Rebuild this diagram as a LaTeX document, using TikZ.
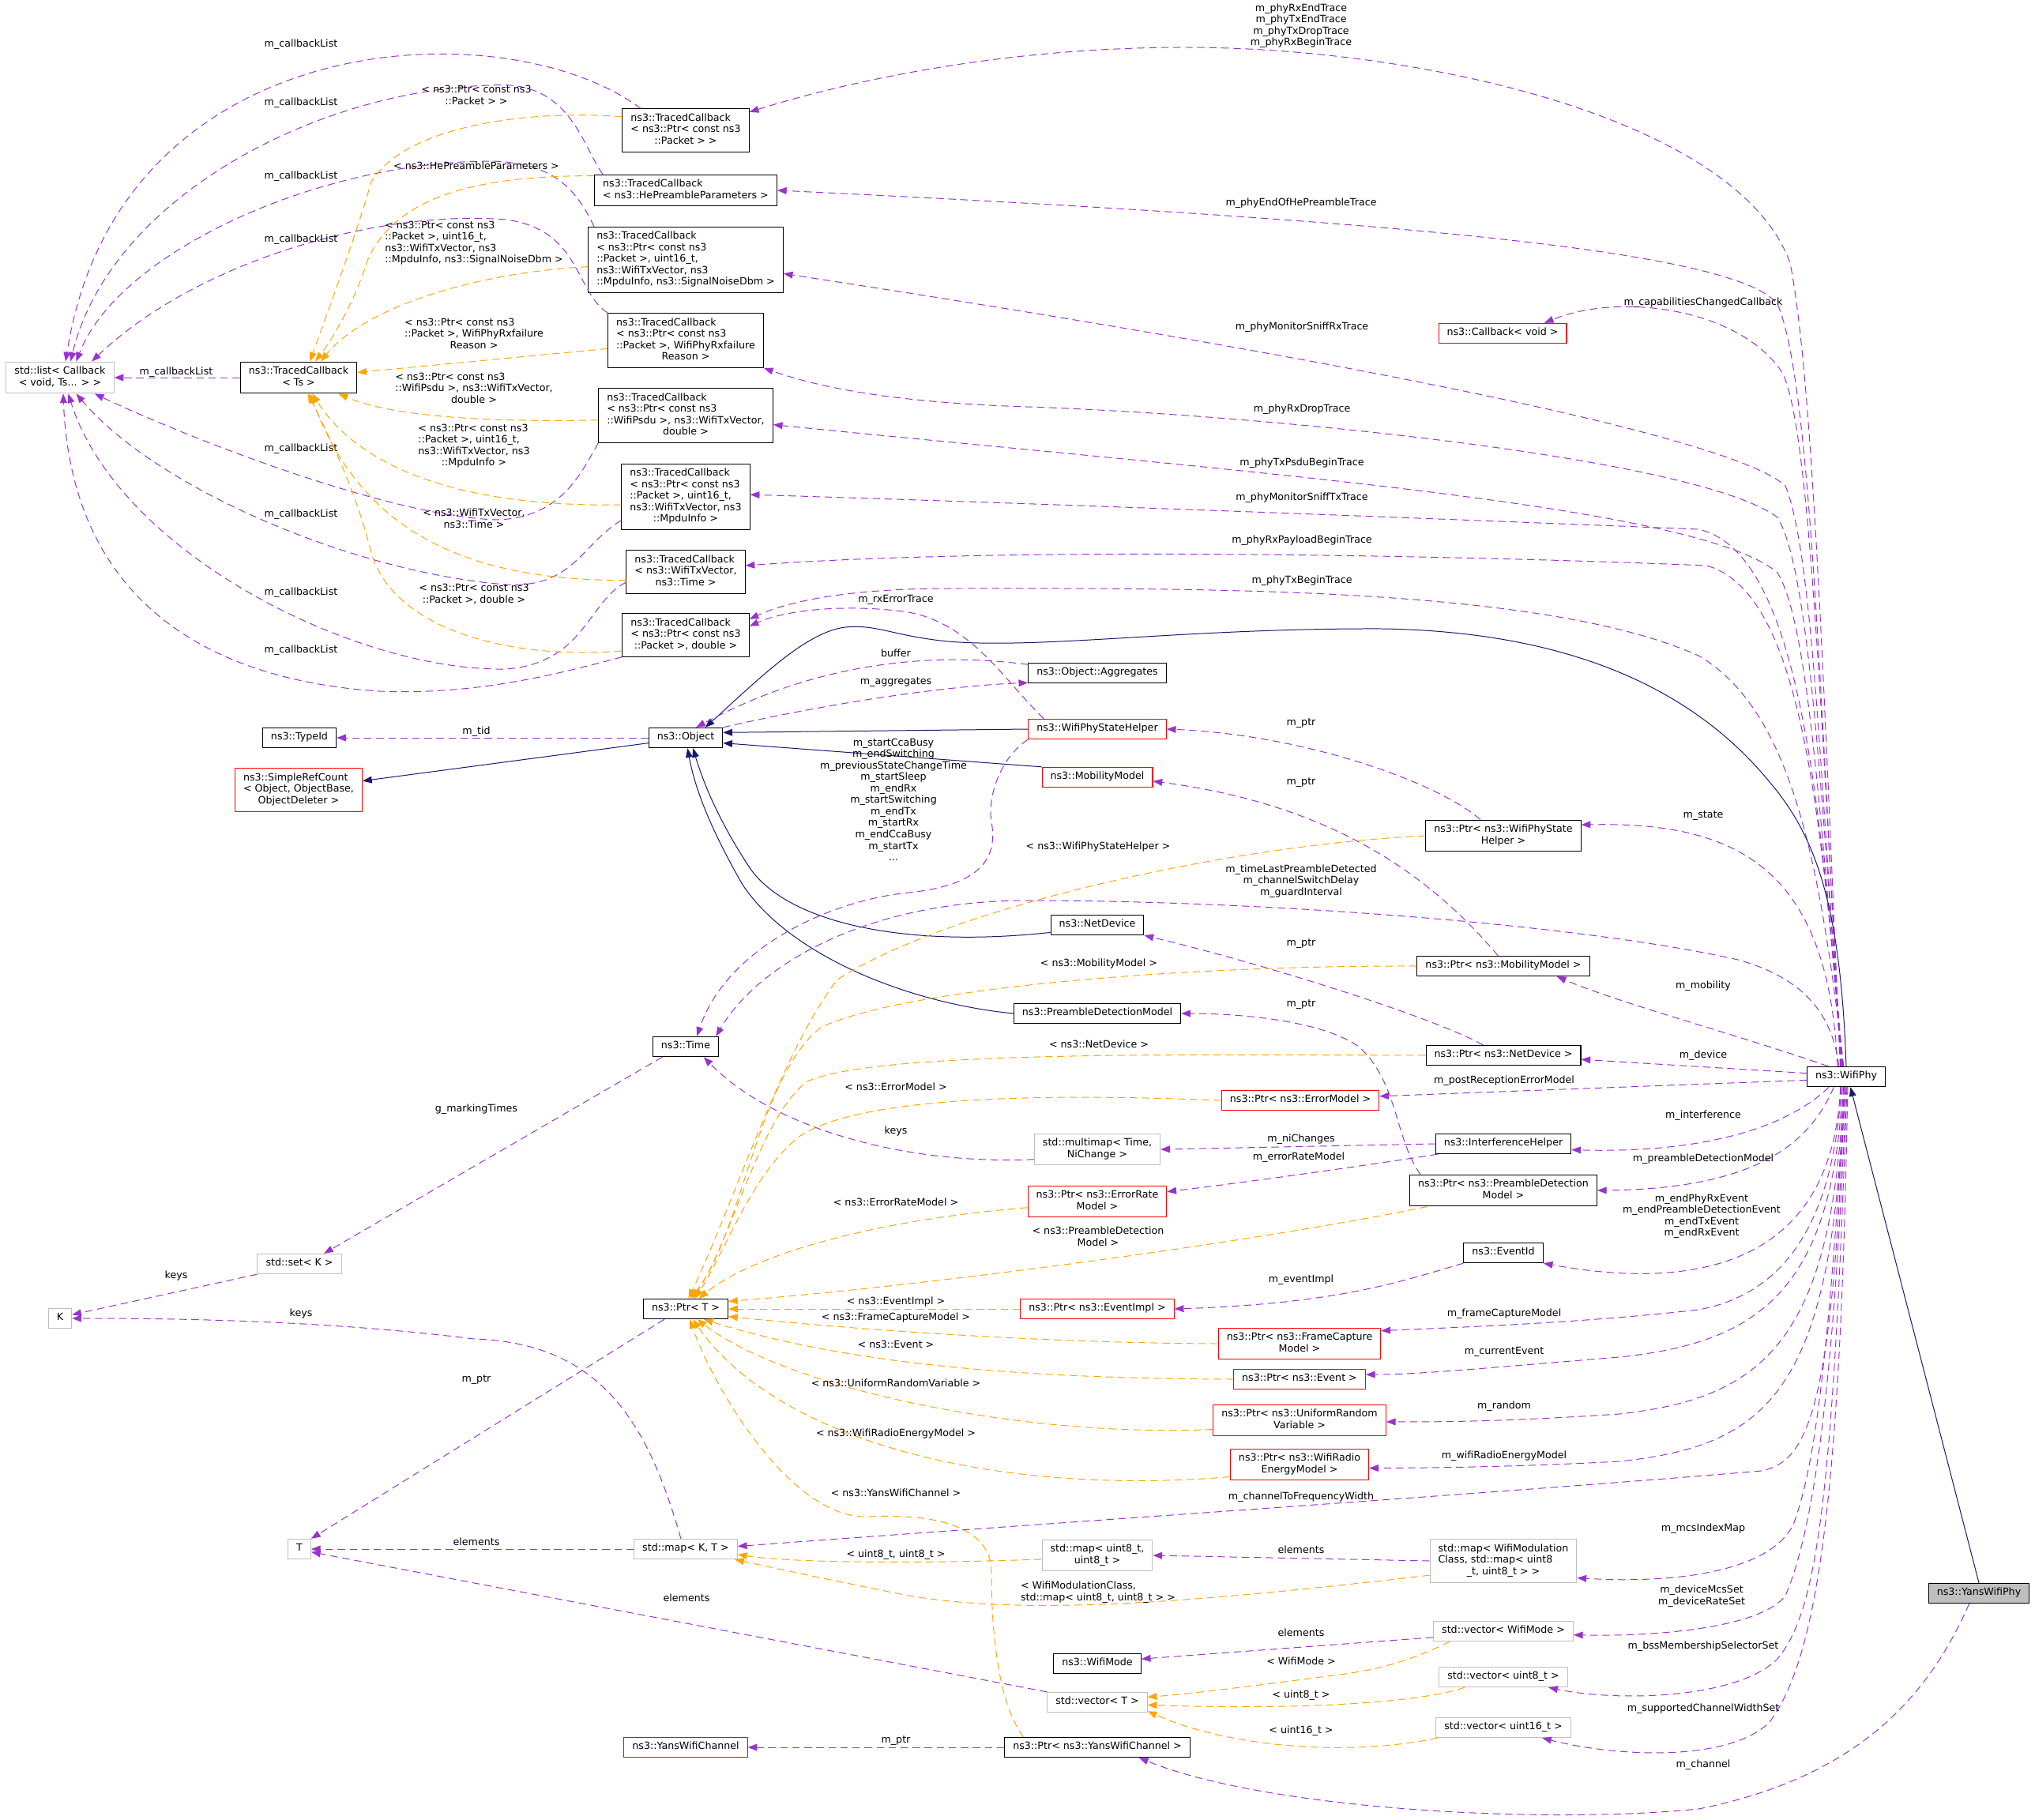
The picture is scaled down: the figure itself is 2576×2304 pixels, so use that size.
\documentclass[tikz,border=0pt]{standalone}
\usepackage{fontspec}
\setmainfont{DejaVu Sans}
\usetikzlibrary{arrows.meta}
\definecolor{mempurple}{HTML}{9A32CD}
\definecolor{tmplorange}{HTML}{FFA500}
\definecolor{inhnavy}{HTML}{191970}
\definecolor{boxgray}{HTML}{BFBFBF}
\newcommand{\cl}[1]{\begin{tabular}{@{}l@{}}#1\end{tabular}}
\newcommand{\cc}[1]{\begin{tabular}{@{}c@{}}#1\end{tabular}}
\newcommand{\lastln}[1]{\multicolumn{1}{@{}c@{}}{#1}}
\tikzset{
  cls/.style={draw=black, fill=white, line width=0.9pt, inner xsep=9pt, inner ysep=4.6pt, font=\fontsize{10.8}{12.4}\selectfont},
  redcls/.style={cls, draw=red},
  graycls/.style={cls, draw=boxgray},
  lbl/.style={inner sep=0pt, font=\fontsize{10.8}{12.4}\selectfont},
  member/.style={draw=mempurple, line width=0.85pt, dash pattern=on 8pt off 5pt, -{Triangle[length=10pt,width=7.5pt]}},
  tmpl/.style={member, draw=tmplorange},
  inherit/.style={draw=inhnavy, line width=0.85pt, -{Triangle[length=10pt,width=7.5pt]}}
}
\begin{document}
\begin{tikzpicture}[x=0.3mm, y=-0.3mm]
    \useasboundingbox (0,0) rectangle (2576,2304);
    % classes
    \node[graycls] (lst) at (76,478) {\cl{std::list< Callback\\\lastln{< void, Ts... > >}}};
    \node[cls] (tcts) at (378,478) {\cl{ns3::TracedCallback\\\lastln{< Ts >}}};
    \node[cls] (tc1) at (868,165) {\cl{ns3::TracedCallback\\< ns3::Ptr< const ns3\\\lastln{::Packet > >}}};
    \node[cls] (tc2) at (868,241) {\cl{ns3::TracedCallback\\\lastln{< ns3::HePreambleParameters >}}};
    \node[cls] (tc3) at (868,329) {\cl{ns3::TracedCallback\\< ns3::Ptr< const ns3\\::Packet >, uint16\_t,\\ns3::WifiTxVector, ns3\\\lastln{::MpduInfo, ns3::SignalNoiseDbm >}}};
    \node[cls] (tc4) at (868,431) {\cl{ns3::TracedCallback\\< ns3::Ptr< const ns3\\::Packet >, WifiPhyRxfailure\\\lastln{Reason >}}};
    \node[cls] (tc5) at (868,526) {\cl{ns3::TracedCallback\\< ns3::Ptr< const ns3\\::WifiPsdu >, ns3::WifiTxVector,\\\lastln{double >}}};
    \node[cls] (tc6) at (868,629) {\cl{ns3::TracedCallback\\< ns3::Ptr< const ns3\\::Packet >, uint16\_t,\\ns3::WifiTxVector, ns3\\\lastln{::MpduInfo >}}};
    \node[cls] (tc7) at (868,724) {\cl{ns3::TracedCallback\\< ns3::WifiTxVector,\\\lastln{ns3::Time >}}};
    \node[cls] (tc8) at (868,804) {\cl{ns3::TracedCallback\\< ns3::Ptr< const ns3\\\lastln{::Packet >, double >}}};
    \node[cls] (typeid) at (379,934) {\cl{ns3::TypeId}};
    \node[redcls] (simpleref) at (378,1000) {\cl{ns3::SimpleRefCount\\< Object, ObjectBase,\\\lastln{ObjectDeleter >}}};
    \node[cls] (object) at (868,934) {\cl{ns3::Object}};
    \node[cls] (aggr) at (1389,852) {\cl{ns3::Object::Aggregates}};
    \node[redcls] (wpsh) at (1389,923) {\cl{ns3::WifiPhyStateHelper}};
    \node[redcls] (mobility) at (1389,984) {\cl{ns3::MobilityModel}};
    \node[cls] (netdev) at (1389,1171) {\cl{ns3::NetDevice}};
    \node[cls] (pdm) at (1389,1283) {\cl{ns3::PreambleDetectionModel}};
    \node[cls] (time) at (868,1325) {\cl{ns3::Time}};
    \node[graycls] (stdset) at (379,1600) {\cl{std::set< K >}};
    \node[graycls] (kk) at (76,1669) {\cl{K}};
    \node[cls] (ptrT) at (868,1657) {\cl{ns3::Ptr< T >}};
    \node[graycls] (tt) at (379,1961) {\cl{T}};
    \node[graycls] (mapKT) at (868,1961) {\cl{std::map< K, T >}};
    \node[redcls] (yanschan) at (868,2212) {\cl{ns3::YansWifiChannel}};
    \node[redcls] (callback) at (1902,422) {\cl{ns3::Callback< void >}};
    \node[cls] (ptrwpsh) at (1903,1058) {\cl{ns3::Ptr< ns3::WifiPhyState\\\lastln{Helper >}}};
    \node[cls] (ptrmob) at (1903,1223) {\cl{ns3::Ptr< ns3::MobilityModel >}};
    \node[cls] (ptrnet) at (1903,1336) {\cl{ns3::Ptr< ns3::NetDevice >}};
    \node[redcls] (ptrerr) at (1646,1393) {\cl{ns3::Ptr< ns3::ErrorModel >}};
    \node[graycls] (multimap) at (1389,1455) {\cl{std::multimap< Time,\\\lastln{NiChange >}}};
    \node[cls] (ifh) at (1903,1448) {\cl{ns3::InterferenceHelper}};
    \node[redcls] (ptrerate) at (1389,1521) {\cl{ns3::Ptr< ns3::ErrorRate\\\lastln{Model >}}};
    \node[cls] (ptrpdm) at (1903,1507) {\cl{ns3::Ptr< ns3::PreambleDetection\\\lastln{Model >}}};
    \node[cls] (eventid) at (1903,1586) {\cl{ns3::EventId}};
    \node[redcls] (ptrevimpl) at (1389,1657) {\cl{ns3::Ptr< ns3::EventImpl >}};
    \node[redcls] (ptrfcm) at (1645,1701) {\cl{ns3::Ptr< ns3::FrameCapture\\\lastln{Model >}}};
    \node[redcls] (ptrevent) at (1645,1746) {\cl{ns3::Ptr< ns3::Event >}};
    \node[redcls] (ptrurv) at (1645,1798) {\cl{ns3::Ptr< ns3::UniformRandom\\\lastln{Variable >}}};
    \node[redcls] (ptrwre) at (1645,1854) {\cl{ns3::Ptr< ns3::WifiRadio\\\lastln{EnergyModel >}}};
    \node[graycls] (mapu8) at (1389,1969) {\cl{std::map< uint8\_t,\\\lastln{uint8\_t >}}};
    \node[graycls] (mapwmc) at (1903,1976) {\cl{std::map< WifiModulation\\Class, std::map< uint8\\\lastln{\_t, uint8\_t > >}}};
    \node[cls] (wifimode) at (1389,2106) {\cl{ns3::WifiMode}};
    \node[graycls] (vecT) at (1389,2155) {\cl{std::vector< T >}};
    \node[graycls] (vecwm) at (1903,2065) {\cl{std::vector< WifiMode >}};
    \node[graycls] (vecu8) at (1903,2123) {\cl{std::vector< uint8\_t >}};
    \node[graycls] (vecu16) at (1903,2187) {\cl{std::vector< uint16\_t >}};
    \node[cls] (ptryans) at (1389,2212) {\cl{ns3::Ptr< ns3::YansWifiChannel >}};
    \node[cls] (phy) at (2337,1363) {\cl{ns3::WifiPhy}};
    \node[cls, fill=boxgray] (yansphy) at (2505,2017) {\cl{ns3::YansWifiPhy}};

    % m_callbackList
    \draw[member] (tcts.west) -- (lst.east);
    \draw[member] (tc1.154) .. controls (640,10) and (150,30) .. (lst.71);
    \draw[member] (tc2.169) .. controls (735,180) and (720,100) .. (620,108) .. controls (400,115) and (140,250) .. (lst.57);
    \draw[member] (tc3.160) .. controls (730,240) and (700,205) .. (620,204) .. controls (400,205) and (150,320) .. (lst.45);
    \draw[member] (tc4.north west) .. controls (728,370) and (735,290) .. (640,278) .. controls (480,265) and (250,330) .. (lst.27);
    \draw[member] (tc5.south west) .. controls (735,600) and (710,655) .. (630,658) .. controls (500,655) and (250,560) .. (lst.-25);
    \draw[member] (tc6.200) .. controls (735,690) and (725,745) .. (640,740) .. controls (450,725) and (200,620) .. (lst.-45);
    \draw[member] (tc7.190) .. controls (745,760) and (740,840) .. (640,847) .. controls (450,850) and (150,700) .. (lst.-63);
    \draw[member] (tc8.south west) .. controls (700,855) and (600,880) .. (480,875) .. controls (250,860) and (90,750) .. (lst.-79);
    \node[lbl] (cbl0) at (223,471) {m\_callbackList};
    \foreach \y [count=\i] in {56,130,223,303,568,651,750,823}
        \node[lbl] (cbl\i) at (381,\y) {m\_callbackList};

    % TracedCallback instances
    \draw[tmpl] (tc1.168) .. controls (700,140) and (520,150) .. (470,230) .. controls (450,300) and (420,380) .. (tcts.55);
    \draw[tmpl] (tc2.171) .. controls (600,222) and (500,250) .. (465,330) .. controls (450,380) and (420,430) .. (tcts.44);
    \draw[tmpl] (tc3.184) .. controls (600,345) and (460,390) .. (tcts.36);
    \draw[tmpl] (tc4.186) -- (tcts.5);
    \draw[tmpl] (tc5.183) .. controls (600,535) and (490,525) .. (tcts.-22);
    \draw[tmpl] (tc6.187) .. controls (600,642) and (460,600) .. (tcts.-50);
    \draw[tmpl] (tc7.188) .. controls (600,735) and (460,680) .. (tcts.-55);
    \draw[tmpl] (tc8.194) .. controls (650,835) and (500,800) .. (470,700) .. controls (450,620) and (420,560) .. (tcts.-60);
    \node[lbl] (oPkt) at (603,122) {\cl{< ns3::Ptr< const ns3\\\lastln{::Packet > >}}};
    \node[lbl] (oHe) at (603,212) {\cl{< ns3::HePreambleParameters >}};
    \node[lbl] (oSnr) at (600,308) {\cl{< ns3::Ptr< const ns3\\::Packet >, uint16\_t,\\ns3::WifiTxVector, ns3\\\lastln{::MpduInfo, ns3::SignalNoiseDbm >}}};
    \node[lbl] (oFail) at (600,424) {\cl{< ns3::Ptr< const ns3\\::Packet >, WifiPhyRxfailure\\\lastln{Reason >}}};
    \node[lbl] (oPsdu) at (600,493) {\cl{< ns3::Ptr< const ns3\\::WifiPsdu >, ns3::WifiTxVector,\\\lastln{double >}}};
    \node[lbl] (oMpdu) at (600,565) {\cl{< ns3::Ptr< const ns3\\::Packet >, uint16\_t,\\ns3::WifiTxVector, ns3\\\lastln{::MpduInfo >}}};
    \node[lbl] (oTxv) at (600,658) {\cl{< ns3::WifiTxVector,\\\lastln{ns3::Time >}}};
    \node[lbl] (oDbl) at (600,753) {\cl{< ns3::Ptr< const ns3\\\lastln{::Packet >, double >}}};

    % WifiPhy traces
    \draw[member] (phy.120) .. controls (2310,900) and (2295,480) .. (2266,333) .. controls (2200,150) and (1800,60) .. (1500,60) .. controls (1250,60) and (1050,110) .. (tc1.16);
    \draw[member] (phy.118) .. controls (2305,900) and (2292,480) .. (2250,385) .. controls (2200,320) and (1800,280) .. (tc2.east);
    \draw[member] (phy.116) .. controls (2305,900) and (2290,530) .. (2255,470) .. controls (2200,390) and (2050,370) .. (callback.14);
    \draw[member] (phy.114) .. controls (2305,1000) and (2295,700) .. (2260,615) .. controls (2200,560) and (1800,470) .. (tc3.-8);
    \draw[member] (phy.112) .. controls (2305,1000) and (2290,720) .. (2250,655) .. controls (2150,580) and (1600,525) .. (1300,515) .. controls (1150,510) and (1050,495) .. (tc4.south east);
    \draw[member] (phy.110) .. controls (2305,1050) and (2290,790) .. (2250,725) .. controls (2150,640) and (1600,600) .. (tc5.-6);
    \draw[member] (phy.108) .. controls (2305,1050) and (2285,700) .. (2150,670) .. controls (1900,660) and (1400,640) .. (tc6.2);
    \draw[member] (phy.106) .. controls (2305,1050) and (2285,750) .. (2160,716) .. controls (1900,705) and (1300,690) .. (tc7.6);
    \draw[member] (phy.104) .. controls (2305,1100) and (2270,900) .. (2150,830) .. controls (1950,740) and (1500,745) .. (1200,745) .. controls (1080,745) and (1000,760) .. (tc8.14);
    \draw[member] (wpsh.169) .. controls (1270,860) and (1230,790) .. (1150,775) .. controls (1080,765) and (1000,770) .. (tc8.8);
    \node[lbl] (lRxEnd) at (1647,33) {\cc{m\_phyRxEndTrace\\m\_phyTxEndTrace\\m\_phyTxDropTrace\\m\_phyRxBeginTrace}};
    \node[lbl] (lHeEnd) at (1647,257) {m\_phyEndOfHePreambleTrace};
    \node[lbl] (lCap) at (2156,383) {m\_capabilitiesChangedCallback};
    \node[lbl] (lSniffRx) at (1648,414) {m\_phyMonitorSniffRxTrace};
    \node[lbl] (lRxDrop) at (1648,518) {m\_phyRxDropTrace};
    \node[lbl] (lPsdu) at (1648,586) {m\_phyTxPsduBeginTrace};
    \node[lbl] (lSniffTx) at (1648,630) {m\_phyMonitorSniffTxTrace};
    \node[lbl] (lPayload) at (1648,684) {m\_phyRxPayloadBeginTrace};
    \node[lbl] (lTxBegin) at (1648,735) {m\_phyTxBeginTrace};
    \node[lbl] (lRxErr) at (1134,759) {m\_rxErrorTrace};

    % inheritance
    \draw[inherit] (phy.north) .. controls (2330,1150) and (2300,1060) .. (2240,990) .. controls (2150,880) and (2000,800) .. (1750,796) .. controls (1500,795) and (1320,822) .. (1200,812) .. controls (1130,805) and (1110,790) .. (1070,794) .. controls (1020,800) and (960,860) .. (object.28);
    \draw[inherit] (yansphy.north) -- (phy.-68);
    \draw[inherit] (wpsh.west) -- (object.8);
    \draw[inherit] (mobility.north west) -- (object.-8);
    \draw[inherit] (netdev.189) .. controls (1150,1200) and (1000,1170) .. (950,1100) .. controls (910,1040) and (890,990) .. (object.-55);
    \draw[inherit] (pdm.west) .. controls (1150,1270) and (1000,1210) .. (940,1120) .. controls (900,1050) and (880,1000) .. (object.-80);
    \draw[inherit] (object.188) -- (simpleref.8);

    % Object, Time and containers
    \draw[member] (object.west) -- (typeid.east);
    \draw[member] (object.north east) .. controls (1050,890) and (1200,868) .. (aggr.188);
    \draw[member] (aggr.173) .. controls (1200,828) and (1050,830) .. (object.45);
    \draw[member] (wpsh.south west) .. controls (1265,960) and (1250,1010) .. (1255,1040) .. controls (1262,1080) and (1250,1120) .. (1150,1130) .. controls (1050,1140) and (920,1200) .. (time.43);
    \draw[member] (phy.125) .. controls (2320,1290) and (2290,1240) .. (2200,1215) .. controls (2000,1170) and (1600,1140) .. (1300,1140) .. controls (1100,1140) and (960,1220) .. (time.19);
    \draw[member] (multimap.189) .. controls (1150,1475) and (980,1430) .. (time.-30);
    \draw[member] (time.204) -- (stdset.23);
    \draw[member] (stdset.south west) -- (kk.17);
    \draw[member] (mapKT.115) .. controls (820,1800) and (760,1700) .. (600,1695) .. controls (400,1670) and (200,1669) .. (kk.east);
    \draw[member] (ptrT.206) -- (tt.north east);
    \draw[member] (mapKT.west) -- (tt.east);
    \draw[member] (vecT.north west) -- (tt.-14);
    \node[lbl] (lBuffer) at (1134,827) {buffer};
    \node[lbl] (lAggr) at (1134,864) {m\_aggregates};
    \node[lbl] (lTid) at (603,926) {m\_tid};
    \node[lbl] (lStates) at (1131,1014) {\cc{m\_startCcaBusy\\m\_endSwitching\\m\_previousStateChangeTime\\m\_startSleep\\m\_endRx\\m\_startSwitching\\m\_endTx\\m\_startRx\\m\_endCcaBusy\\m\_startTx\\...}};
    \node[lbl] (lTimes) at (1647,1116) {\cc{m\_timeLastPreambleDetected\\m\_channelSwitchDelay\\m\_guardInterval}};
    \node[lbl] (lKeys1) at (1134,1432) {keys};
    \node[lbl] (lMark) at (603,1404) {g\_markingTimes};
    \node[lbl] (lKeys2) at (223,1615) {keys};
    \node[lbl] (lKeys3) at (381,1663) {keys};
    \node[lbl] (lMptr) at (603,1747) {m\_ptr};
    \node[lbl] (lElem1) at (603,1952) {elements};
    \node[lbl] (lElem2) at (869,2023) {elements};

    % m_ptr
    \draw[member] (ptrwpsh.145) .. controls (1820,990) and (1650,930) .. (wpsh.east);
    \draw[member] (ptrmob.117) .. controls (1820,1120) and (1700,1020) .. (mobility.-4);
    \draw[member] (ptrnet.153) .. controls (1820,1290) and (1600,1220) .. (netdev.south east);
    \draw[member] (ptrpdm.169) .. controls (1765,1440) and (1770,1370) .. (1720,1325) .. controls (1670,1290) and (1560,1283) .. (pdm.east);
    \draw[member] (ptryans.west) -- (yanschan.east);
    \foreach \y [count=\i] in {916,991,1195,1272}
        \node[lbl] (lPtr\i) at (1647,\y) {m\_ptr};
    \node[lbl] (lYptr) at (1134,2204) {m\_ptr};

    % Ptr< T >
    \draw[tmpl] (ptrwpsh.west) .. controls (1550,1070) and (1200,1150) .. (1060,1240) .. controls (990,1330) and (930,1520) .. (ptrT.75);
    \draw[tmpl] (ptrmob.west) .. controls (1500,1222) and (1150,1250) .. (1040,1300) .. controls (960,1360) and (940,1560) .. (ptrT.65);
    \draw[tmpl] (ptrnet.west) .. controls (1500,1335) and (1100,1330) .. (1020,1370) .. controls (960,1420) and (930,1560) .. (ptrT.55);
    \draw[tmpl] (ptrerr.west) .. controls (1300,1383) and (1080,1390) .. (1010,1440) .. controls (950,1490) and (920,1580) .. (ptrT.48);
    \draw[tmpl] (ptrerate.185) .. controls (1100,1545) and (950,1590) .. (ptrT.38);
    \draw[tmpl] (ptrpdm.-168) .. controls (1600,1570) and (1200,1625) .. (ptrT.10);
    \draw[tmpl] (ptrevimpl.west) -- (ptrT.east);
    \draw[tmpl] (ptrfcm.west) .. controls (1300,1700) and (1050,1680) .. (ptrT.-10);
    \draw[tmpl] (ptrevent.west) .. controls (1250,1745) and (1050,1720) .. (ptrT.-30);
    \draw[tmpl] (ptrurv.186) .. controls (1300,1820) and (1000,1760) .. (ptrT.-42);
    \draw[tmpl] (ptrwre.190) .. controls (1250,1895) and (980,1820) .. (ptrT.-55);
    \draw[tmpl] (ptryans.172) .. controls (1260,2150) and (1255,2050) .. (1255,1990) .. controls (1255,1940) and (1200,1915) .. (1100,1920) .. controls (1000,1925) and (900,1750) .. (ptrT.-68);
    \node[lbl] (oWpsh) at (1390,1072) {< ns3::WifiPhyStateHelper >};
    \node[lbl] (oMob) at (1391,1220) {< ns3::MobilityModel >};
    \node[lbl] (oNet) at (1391,1322) {< ns3::NetDevice >};
    \node[lbl] (oErr) at (1134,1376) {< ns3::ErrorModel >};
    \node[lbl] (oErate) at (1134,1522) {< ns3::ErrorRateModel >};
    \node[lbl] (oPdm) at (1390,1567) {\cl{< ns3::PreambleDetection\\\lastln{Model >}}};
    \node[lbl] (oEvImpl) at (1134,1648) {< ns3::EventImpl >};
    \node[lbl] (oFcm) at (1134,1668) {< ns3::FrameCaptureModel >};
    \node[lbl] (oEvent) at (1134,1702) {< ns3::Event >};
    \node[lbl] (oUrv) at (1134,1751) {< ns3::UniformRandomVariable >};
    \node[lbl] (oWre) at (1134,1815) {< ns3::WifiRadioEnergyModel >};
    \node[lbl] (oYans) at (1134,1890) {< ns3::YansWifiChannel >};

    % helpers, maps and vectors
    \draw[member] (ifh.west) -- (multimap.east);
    \draw[member] (ifh.-171) .. controls (1700,1480) and (1550,1500) .. (ptrerate.8);
    \draw[member] (eventid.south west) .. controls (1780,1620) and (1700,1650) .. (ptrevimpl.east);
    \draw[member] (mapwmc.west) -- (mapu8.east);
    \draw[tmpl] (mapu8.184) .. controls (1150,1980) and (1000,1978) .. (mapKT.-6);
    \draw[tmpl] (mapwmc.191) .. controls (1500,2030) and (1300,2045) .. (1150,2020) .. controls (1050,2000) and (980,1985) .. (mapKT.-12);
    \draw[member] (vecwm.185) -- (wifimode.6);
    \draw[tmpl] (vecwm.-169) .. controls (1780,2105) and (1740,2115) .. (1680,2122) .. controls (1580,2135) and (1500,2145) .. (vecT.6);
    \draw[tmpl] (vecu8.-165) .. controls (1800,2155) and (1650,2165) .. (vecT.-3);
    \draw[tmpl] (vecu16.-171) .. controls (1700,2225) and (1550,2210) .. (vecT.-10);
    \node[lbl] (lNi) at (1647,1442) {m\_niChanges};
    \node[lbl] (lErate) at (1644,1465) {m\_errorRateModel};
    \node[lbl] (lEvImpl) at (1647,1620) {m\_eventImpl};
    \node[lbl] (lElem3) at (1647,1962) {elements};
    \node[lbl] (lElem4) at (1647,2067) {elements};
    \node[lbl] (oU8pair) at (1134,1968) {< uint8\_t, uint8\_t >};
    \node[lbl] (oWmc) at (1390,2016) {\cl{< WifiModulationClass,\\\lastln{std::map< uint8\_t, uint8\_t > >}}};
    \node[lbl] (oWm) at (1647,2103) {< WifiMode >};
    \node[lbl] (oU8) at (1647,2146) {< uint8\_t >};
    \node[lbl] (oU16) at (1647,2191) {< uint16\_t >};

    % WifiPhy members
    \draw[member] (phy.130) .. controls (2315,1100) and (2200,1040) .. (ptrwpsh.8);
    \draw[member] (phy.150) .. controls (2200,1310) and (2050,1270) .. (ptrmob.-11);
    \draw[member] (phy.175) -- (ptrnet.-3);
    \draw[member] (phy.185) -- (ptrerr.3);
    \draw[member] (phy.211) .. controls (2260,1430) and (2150,1460) .. (ifh.-5);
    \draw[member] (phy.220) .. controls (2290,1450) and (2220,1505) .. (ptrpdm.east);
    \draw[member] (phy.241) .. controls (2320,1600) and (2150,1635) .. (eventid.south east);
    \draw[member] (phy.245) .. controls (2320,1560) and (2250,1640) .. (2150,1658) .. controls (2000,1675) and (1850,1680) .. (ptrfcm.9);
    \draw[member] (phy.250) .. controls (2320,1640) and (2220,1700) .. (2050,1718) .. controls (1900,1730) and (1800,1740) .. (ptrevent.4);
    \draw[member] (phy.255) .. controls (2320,1700) and (2230,1770) .. (2050,1790) .. controls (1900,1800) and (1820,1800) .. (ptrurv.-1);
    \draw[member] (phy.258) .. controls (2320,1760) and (2240,1830) .. (2050,1850) .. controls (1900,1858) and (1800,1858) .. (ptrwre.-3);
    \draw[member] (phy.262) .. controls (2320,1780) and (2290,1850) .. (2230,1862) .. controls (1900,1890) and (1300,1930) .. (mapKT.3);
    \draw[member] (phy.266) .. controls (2315,1700) and (2300,1850) .. (2270,1930) .. controls (2240,1990) and (2120,2005) .. (mapwmc.-13);
    \draw[member] (phy.270) .. controls (2320,1800) and (2290,1950) .. (2260,2020) .. controls (2230,2060) and (2100,2072) .. (vecwm.-3);
    \draw[member] (phy.274) .. controls (2320,1900) and (2300,2040) .. (2250,2100) .. controls (2200,2150) and (2050,2155) .. (vecu8.-13);
    \draw[member] (phy.278) .. controls (2330,1900) and (2300,2100) .. (2240,2180) .. controls (2190,2230) and (2050,2225) .. (vecu16.-15);
    \draw[member] (yansphy.227) .. controls (2440,2150) and (2350,2250) .. (2150,2290) .. controls (1950,2310) and (1600,2290) .. (ptryans.-14);
    \node[lbl] (lState) at (2156,1033) {m\_state};
    \node[lbl] (lMob) at (2156,1248) {m\_mobility};
    \node[lbl] (lDev) at (2156,1336) {m\_device};
    \node[lbl] (lPost) at (1904,1368) {m\_postReceptionErrorModel};
    \node[lbl] (lInterf) at (2156,1412) {m\_interference};
    \node[lbl] (lPdm) at (2156,1467) {m\_preambleDetectionModel};
    \node[lbl] (lEvents) at (2154,1540) {\cc{m\_endPhyRxEvent\\m\_endPreambleDetectionEvent\\m\_endTxEvent\\m\_endRxEvent}};
    \node[lbl] (lFcm) at (1904,1663) {m\_frameCaptureModel};
    \node[lbl] (lCur) at (1904,1711) {m\_currentEvent};
    \node[lbl] (lRand) at (1904,1780) {m\_random};
    \node[lbl] (lWre) at (1904,1843) {m\_wifiRadioEnergyModel};
    \node[lbl] (lChan) at (1647,1895) {m\_channelToFrequencyWidth};
    \node[lbl] (lMcs) at (2156,1935) {m\_mcsIndexMap};
    \node[lbl] (lDevSet) at (2154,2021) {\cc{m\_deviceMcsSet\\m\_deviceRateSet}};
    \node[lbl] (lBss) at (2156,2084) {m\_bssMembershipSelectorSet};
    \node[lbl] (lSup) at (2156,2163) {m\_supportedChannelWidthSet};
    \node[lbl] (lChannel) at (2156,2234) {m\_channel};
\end{tikzpicture}
\end{document}
